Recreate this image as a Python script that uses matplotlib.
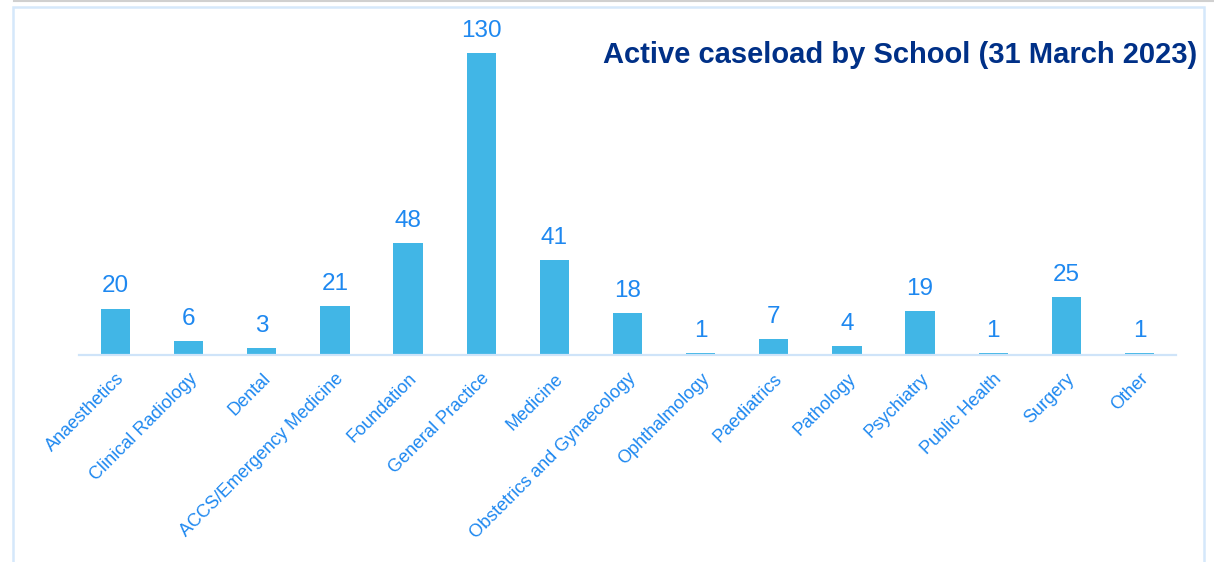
import matplotlib
matplotlib.use("Agg")
import matplotlib.pyplot as plt
from matplotlib.patches import Rectangle
from matplotlib.lines import Line2D

categories = ["Anaesthetics", "Clinical Radiology", "Dental", "ACCS/Emergency Medicine",
              "Foundation", "General Practice", "Medicine", "Obstetrics and Gynaecology",
              "Ophthalmology", "Paediatrics", "Pathology", "Psychiatry", "Public Health",
              "Surgery", "Other"]
values = [20, 6, 3, 21, 48, 130, 41, 18, 1, 7, 4, 19, 1, 25, 1]
title = "Active caseload by School (31 March 2023)"

plt.rcParams['font.family'] = ['Liberation Sans', 'DejaVu Sans']

W, H = 1214, 562
fig = plt.figure(figsize=(W / 100, H / 100), dpi=100)

# frame around chart
fig.patches.append(Rectangle((13 / W, -0.05), (1204 - 13) / W, 1.05 - 7 / H,
                             transform=fig.transFigure, fill=False,
                             edgecolor="#D5E8FB", linewidth=1.8))
fig.lines.append(Line2D([14 / W, 1.0], [1 - 1 / H, 1 - 1 / H], transform=fig.transFigure,
                        color="#D0D0D0", linewidth=1.5))

left, right, base, top = 79, 1176, 355, 10
ax = fig.add_axes([left / W, 1 - base / H, (right - left) / W, (base - top) / H])
px_per_unit = (base - 53) / 130.0
ax.set_ylim(0, (base - top) / px_per_unit)
n = len(categories)
x = list(range(n))
ax.set_xlim(-0.5, n - 0.5)

bars = ax.bar(x, values, width=0.4, color="#41B6E6", zorder=2)
for xi, v in zip(x, values):
    ax.annotate(str(v), (xi, v), xytext=(0, 8), textcoords="offset points",
                ha="center", va="bottom", fontsize=17.5, color="#1E88F0")

for s in ["top", "right", "left"]:
    ax.spines[s].set_visible(False)
ax.spines["bottom"].set_color("#CFE4F9")
ax.spines["bottom"].set_linewidth(1.6)
ax.set_yticks([])
ax.set_xticks(x)
ax.set_xticklabels(categories, rotation=45, ha="right", rotation_mode="anchor",
                   fontsize=13, color="#1E88F0")
ax.tick_params(axis="x", length=0, pad=11)

fig.text(1197 / W, 1 - 55 / H, title, ha="right", va="center", fontsize=21,
         fontweight="bold", color="#003087")

fig.savefig("out.png", dpi=100)
